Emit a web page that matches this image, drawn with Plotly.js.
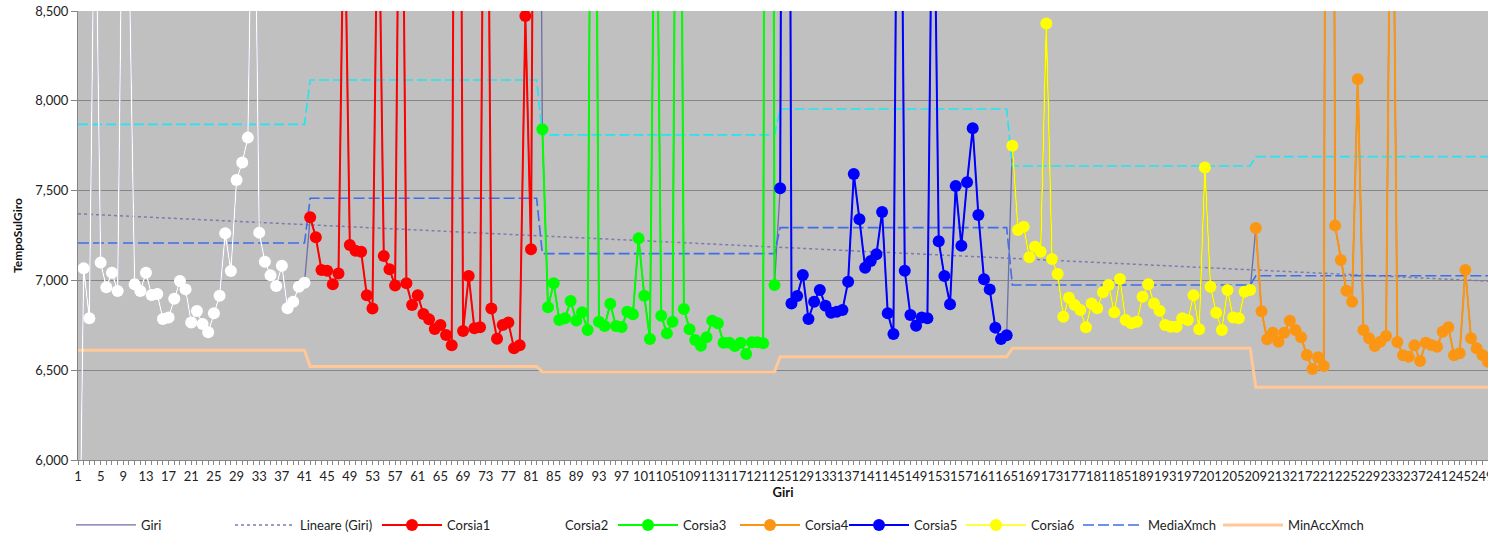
<!DOCTYPE html>
<html><head><meta charset="utf-8">
<script src="https://cdn.plot.ly/plotly-3.0.1.min.js"></script>
<style>html,body{margin:0;padding:0;background:#fff}#chart{width:1488px;height:533px}</style>
</head><body><div id="chart"></div>
<script>
// Lap times (ms) per lane, each lane's block of consecutive laps
const corsia1 = [7351,7240,7058,7054,6978,7039,9300,7197,7165,7160,6917,6843,9450,7136,7062,6971,10500,6984,6863,6917,6813,6783,6729,6752,6696,6639,14000,6718,7024,6733,6739,11200,6843,6675,6752,6765,6622,6639,8472,7173,13000];
const corsia2 = [4700,7067,6789,9450,7099,6962,7043,6941,9700,8850,6978,6941,7043,6919,6924,6785,6794,6898,6997,6950,6765,6830,6757,6711,6817,6915,7262,7052,7559,7657,7795,9850,7266,7104,7028,6969,7082,6845,6881,6965,6987];
const corsia3 = [7841,6850,6984,6779,6789,6885,6776,6822,6724,12000,6770,6746,6870,6746,6741,6826,6811,7234,6915,6674,9900,6803,6705,6770,12000,6841,6728,6668,6636,6683,6776,6761,6653,6653,6635,6653,6590,6655,6655,6650,20000,6974];
const corsia4 = [7292,6828,6672,6709,6659,6709,6776,6724,6683,6585,6507,6572,6523,18000,7305,7114,6943,6881,8120,6724,6678,6635,6659,6690,10200,6657,6583,6575,6639,6551,6653,6640,6631,6714,6739,6583,6594,7058,6678,6622,6585,6547];
const corsia5 = [7513,16000,6872,6913,7030,6785,6881,6947,6859,6820,6826,6835,6993,7592,7340,7071,7108,7145,7381,6817,6702,11100,7054,6807,6748,6794,6789,9750,7218,7024,6867,7526,7193,7546,7847,7364,7006,6950,6737,6674,6694];
const corsia6 = [7750,7281,7299,7129,7188,7160,8431,7119,7036,6798,6904,6863,6835,6739,6872,6845,6934,6974,6822,7008,6779,6761,6770,6909,6978,6872,6831,6752,6742,6742,6789,6779,6917,6728,7628,6965,6820,6724,6947,6794,6789,6937,6947];
// first lap of each lane block (Corsia1..Corsia6)
const laneStartLap = [42, 1, 83, 209, 125, 166];
const laneNames = ['Corsia1','Corsia2','Corsia3','Corsia4','Corsia5','Corsia6'];
const laneColors = ['#FF0000','#FFFFFF','#00FF00','#FA9614','#0000FF','#FFFF00'];

// per-heat statistics
const blockStartLap = [1, 42, 83, 125, 166, 209];
const blockEndLap   = [41, 82, 124, 165, 208, 250];
const mediaXmch  = [7208, 7457, 7149, 7294, 6974, 7026];
const maxAccXmch = [7869, 8116, 7810, 7954, 7637, 7689];
const minAccXmch = [6611, 6520, 6492, 6575, 6622, 6405];

// linear trend of Giri (read at the ends)
const trendLaps = [1, 250];
const trendValues = [7371, 6996];

const laneData = [corsia1, corsia2, corsia3, corsia4, corsia5, corsia6];

// Build the Giri series (all laps)
const giriMap = {};
laneData.forEach((arr, i) => arr.forEach((v, k) => { giriMap[laneStartLap[i] + k] = v; }));
const giriLaps = Object.keys(giriMap).map(Number).sort((a,b)=>a-b);
const giriValues = giriLaps.map(l => giriMap[l]);

function expandBlocks(vals) {
  const xs = [], ys = [];
  vals.forEach((v, i) => {
    for (let l = blockStartLap[i]; l <= blockEndLap[i]; l++) { xs.push(l); ys.push(v); }
  });
  return {xs, ys};
}
const media = expandBlocks(mediaXmch);
const maxa = expandBlocks(maxAccXmch);
const mina = expandBlocks(minAccXmch);

const traces = [];
traces.push({x: giriLaps, y: giriValues, name: 'Giri', mode: 'lines', line: {color: '#6E6EA6', width: 1.3}, legend: 'legend'});
traces.push({x: trendLaps, y: trendValues, name: 'Lineare (Giri)', mode: 'lines', line: {color: '#7B7BB0', width: 1.5, dash: '3px,3px'}, legend: 'legend2'});
traces.push({x: maxa.xs, y: maxa.ys, name: 'MaxAccXmch', mode: 'lines', line: {color: '#22E4F2', width: 1.6, dash: '10px,4px'}, showlegend: false});
traces.push({x: media.xs, y: media.ys, name: 'MediaXmch', mode: 'lines', line: {color: '#3F6DEB', width: 1.6, dash: '11px,4px'}, legend: 'legend9'});
traces.push({x: mina.xs, y: mina.ys, name: 'MinAccXmch', mode: 'lines', line: {color: '#FFC896', width: 3}, legend: 'legend10'});
const laneLegend = ['legend3','legend4','legend5','legend6','legend7','legend8'];
const laneWidth = [2, 1.4, 2, 2, 2, 1.6];
laneData.forEach((arr, i) => {
  traces.push({
    x: arr.map((v, k) => laneStartLap[i] + k), y: arr, name: laneNames[i], mode: 'lines+markers',
    line: {color: laneColors[i], width: laneWidth[i]},
    marker: {color: laneColors[i], size: 12, line: {width: 0}},
    legend: laneLegend[i]
  });
});

const font = {family: 'Lato, Carlito, "Liberation Sans", sans-serif', size: 13, color: '#222'};
// legend item positions (px) in the container
const legendX = [76, 235, 382, 500, 618, 740, 849, 966, 1083, 1223];
const legendKeys = ['legend','legend2','legend3','legend4','legend5','legend6','legend7','legend8','legend9','legend10'];

const layout = {
  width: 1488, height: 533,
  margin: {l: 78, r: 0, t: 11, b: 73},
  paper_bgcolor: '#FFFFFF', plot_bgcolor: '#C0C0C0',
  font: font,
  showlegend: true,
  hovermode: false,
  xaxis: {
    range: [1, 250], tick0: 1, dtick: 4, tickangle: 0, ticklabeloverflow: 'allow',
    ticks: 'outside', ticklen: 4, tickcolor: '#868686',
    minor: {dtick: 1, tick0: 1, ticks: 'outside', ticklen: 4, tickcolor: '#868686', showgrid: false},
    showgrid: false, zeroline: false,
    showline: true, linecolor: '#868686', linewidth: 1,
    tickfont: {family: font.family, size: 13, color: '#222'},
    title: {text: 'Giri', font: {family: font.family, size: 13, color: '#111', weight: 'bold'}, standoff: 2}
  },
  yaxis: {
    range: [6000, 8500], dtick: 500, tickformat: ',d',
    ticks: 'outside', ticklen: 6, tickcolor: '#868686',
    showgrid: true, gridcolor: '#868686', gridwidth: 1, zeroline: false,
    showline: true, linecolor: '#868686', linewidth: 1,
    tickfont: {family: font.family, size: 13, color: '#222'},
    title: {text: 'TempoSulGiro', font: {family: font.family, size: 12, color: '#111', weight: 'bold'}, standoff: 10}
  }
};
legendKeys.forEach((k, i) => {
  layout[k] = {
    xref: 'container', yref: 'container',
    x: (legendX[i] - 5) / 1488, y: 1 - 525 / 533, xanchor: 'left', yanchor: 'middle',
    orientation: 'h', bgcolor: 'rgba(0,0,0,0)', borderwidth: 0,
    itemwidth: 60, font: font
  };
});

Plotly.newPlot('chart', traces, layout, {displayModeBar: false, staticPlot: true});
</script>
</body></html>
